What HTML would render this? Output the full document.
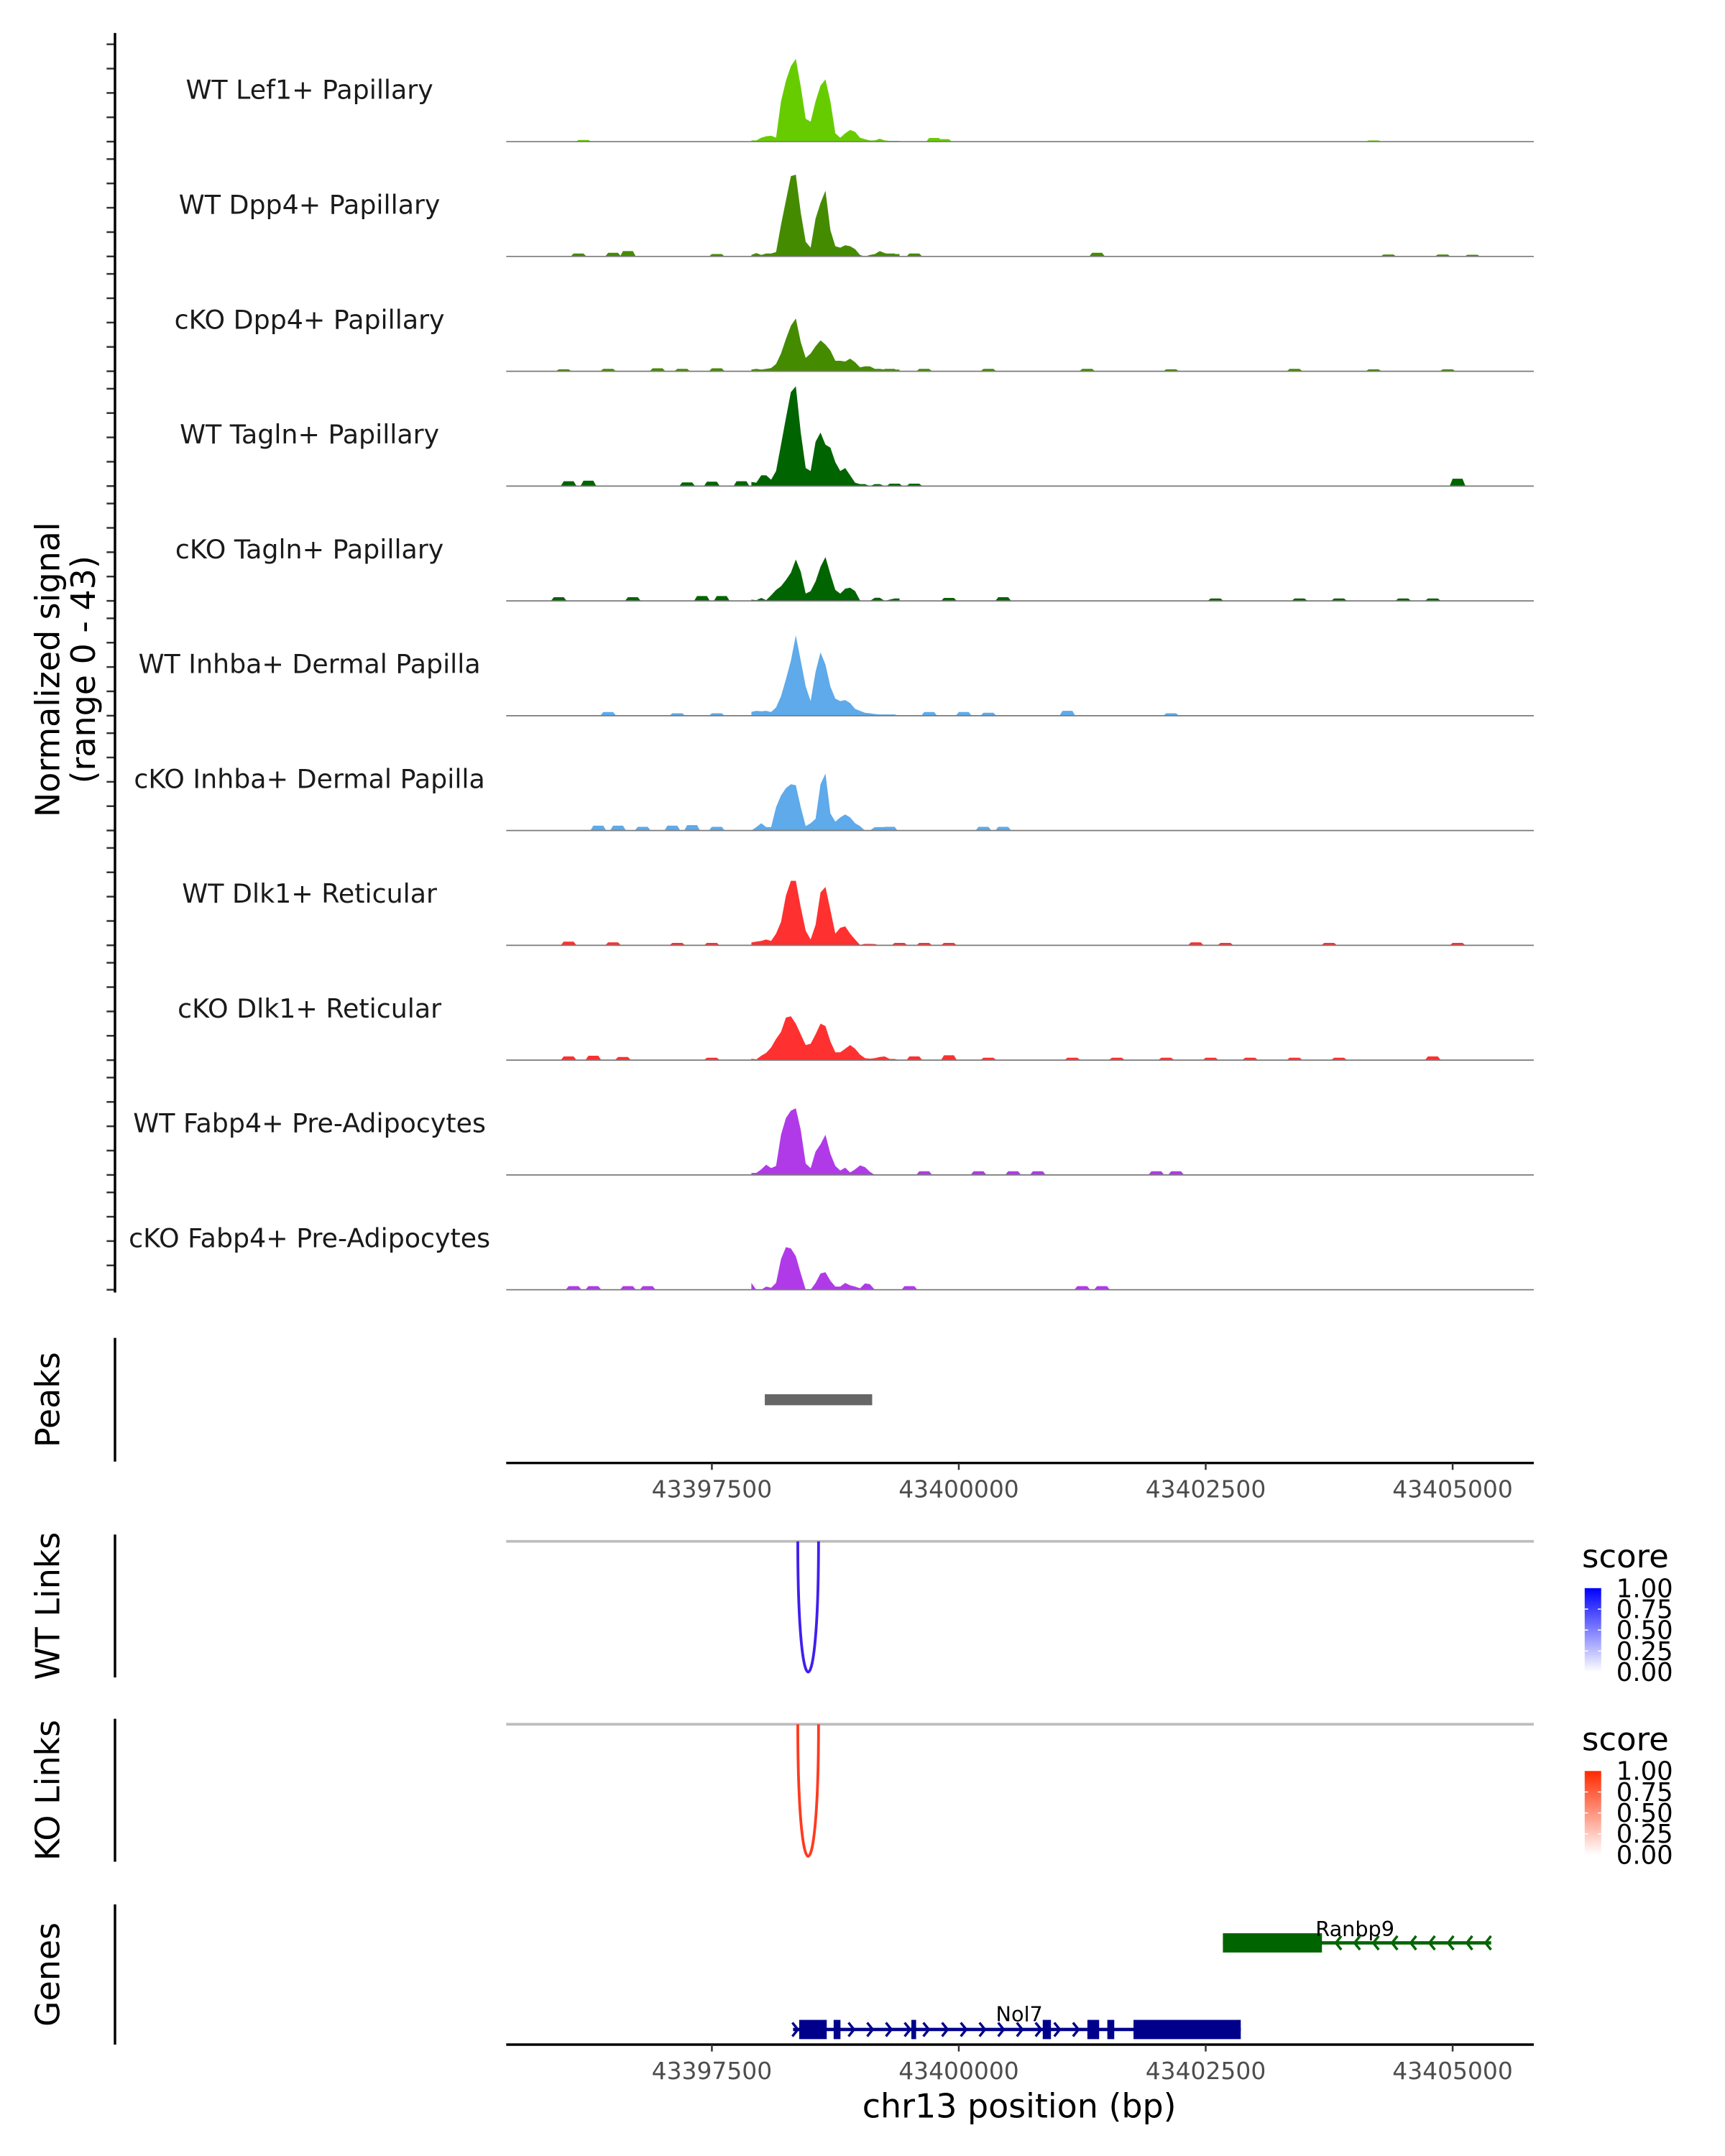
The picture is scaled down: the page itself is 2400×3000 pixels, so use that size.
<!DOCTYPE html>
<html><head><meta charset="utf-8">
<style>
html,body{margin:0;padding:0;background:#fff;}
svg{display:block;}
text{font-family:"DejaVu Sans","Liberation Sans",sans-serif;}
</style></head>
<body>
<svg id="chart" xmlns="http://www.w3.org/2000/svg" width="2400" height="3000" viewBox="0 0 1254 1568" preserveAspectRatio="none">
<rect x="0" y="0" width="1254" height="1568" fill="#fff"/>
<g id="tracks"></g>
<g id="axes"></g>
<g id="genes"></g>
</svg>
<script>
// ---- data ----
const trackNames = ["WT Lef1+ Papillary","WT Dpp4+ Papillary","cKO Dpp4+ Papillary","WT Tagln+ Papillary","cKO Tagln+ Papillary","WT Inhba+ Dermal Papilla","cKO Inhba+ Dermal Papilla","WT Dlk1+ Reticular","cKO Dlk1+ Reticular","WT Fabp4+ Pre-Adipocytes","cKO Fabp4+ Pre-Adipocytes"];
const trackColors = ["#66cc00","#458b00","#458b00","#006400","#006400","#5eaaea","#5eaaea","#ff3030","#ff3030","#b03ae8","#b03ae8"];
const gridBp = [43397900,43397950,43398000,43398050,43398100,43398150,43398200,43398250,43398300,43398350,43398400,43398450,43398500,43398550,43398600,43398650,43398700,43398750,43398800,43398850,43398900,43398950,43399000,43399050,43399100,43399150,43399200,43399250,43399300,43399350,43399400];
const sig1 = [0.5,0.5,1.6,2.2,2.4,1.6,16.6,25,31,34,22.6,9.4,8.2,16.6,23,25.6,16.6,3.4,1.6,3.4,4.8,4,1.6,1,0.5,0.5,1.2,0.5,0.3,0.3,0.3];
const sig2 = [0.6,1.4,0.6,1.2,1.2,1.8,13,23,33,33.6,18,6,3.6,15.6,22,27,10.8,4.2,3.6,4.6,4.2,3,0.6,0,0.6,1,2.2,1.4,0.6,1,1];
const sig3 = [0.7,1,0.7,1,1.3,3,7.3,13.3,18.7,21.7,12,5.5,7.3,10.3,12.7,11,8.5,4.3,4.3,4,5.2,3.7,1.6,2,2,1,1,0.7,0,0.7,0.7];
const sig4 = [1.7,1.4,4.4,4.4,2.6,6.2,17,28,38.6,41,22,7.4,6.2,18.2,22,17,15.8,9.8,6.2,7.4,4.4,1.4,0.8,0.8,0,0.8,0.8,0,0,0,0];
const sig5 = [0.5,0.3,1.2,0.3,2.3,4.5,6,8.6,11.6,17,12,3,4,8,14,18,11,4.5,3,5,5.4,4,0.2,0,0,1.3,1.3,0,0.5,1,1];
const sig6 = [1.6,2,1.8,2,1.5,3.4,8,15,22.6,33,22.6,12,6,18,26,21,12,7,6,6.4,5.2,2.8,2,1.2,1,0.7,0.5,0.5,0.5,0.5,0];
const sig7 = [0,1.4,3,1.4,1.4,9.6,14.4,17.4,19,18.6,9.6,1.8,3,4.8,19,23.4,7,3.6,5.4,6.6,5.4,3,1.8,0,0,1.4,1.4,1.4,0,0,0];
const sig8 = [1.2,1.5,1.8,2.4,1.8,4.8,9.6,20.5,26.5,26.5,15.6,6,2.4,8.4,21.7,24,14.5,4.8,7.2,7.8,4.8,2.4,0.2,0.6,0.6,0.5,0,0,0,0,0];
const sig9 = [0.6,0.3,1.8,3,5.2,8.7,11.6,17.5,18,15,10.6,6.2,6.7,10.6,15,14,7.7,3.2,3.2,4.7,6.2,4.7,2.3,0.8,0.6,0.8,1.3,1.5,0.5,0.5,0];
const sig10 = [0.8,0.8,2.3,4.2,2.8,3.7,16.5,23.4,26.4,27.4,18.5,4.7,2.8,9.6,12.6,16.5,8.7,3.7,1.8,3,1,2.3,3.9,3.2,1.3,0,0,0,0,0,0];
const sig11 = [2.8,0,0,1.3,0.8,2.8,12.6,17.5,17,13.8,6.7,0,0,2.8,6.7,7.2,3.7,1.3,1.3,2.8,1.8,1.3,0.6,2.6,2.3,0,0,0,0,0,0];
// sparse background bumps: [bp, value]
const bumps1 = [[43396200,0.7],[43399750,1.5],[43399850,1],[43404200,0.5]];
const bumps2 = [[43396150,1.2],[43396500,1.5],[43396650,2.2],[43397550,1],[43399300,1.2],[43399550,1.2],[43401400,1.5],[43404350,0.8],[43404900,0.8],[43405200,0.7]];
const bumps3 = [[43396000,0.8],[43396450,1],[43396950,1.2],[43397200,1],[43397550,1.2],[43399300,1],[43399650,1],[43400300,1],[43401300,1],[43402150,0.8],[43403400,1],[43404200,0.8],[43404950,0.8]];
const bumps4 = [[43396050,2],[43396250,2.2],[43397250,1.5],[43397500,1.8],[43397800,2],[43399350,1],[43399550,1],[43405050,3]];
const bumps5 = [[43395950,1.5],[43396700,1.5],[43397400,2],[43397600,2],[43399900,1.2],[43400450,1.5],[43402600,1],[43403450,1],[43403850,1],[43404500,1],[43404800,1]];
const bumps6 = [[43396450,1.5],[43397150,1],[43397550,1],[43399700,1.5],[43400050,1.5],[43400300,1.2],[43401100,2],[43402150,1]];
const bumps7 = [[43396350,2],[43396550,2],[43396800,1.5],[43397100,2],[43397300,2.2],[43397550,1.5],[43399300,1.5],[43400250,1.5],[43400450,1.5]];
const bumps8 = [[43396050,1.5],[43396500,1.2],[43397150,1],[43397500,1],[43399400,1],[43399650,1],[43399900,1],[43402400,1.2],[43402700,1],[43403750,1],[43405050,1]];
const bumps9 = [[43396050,1.5],[43396300,1.8],[43396600,1.3],[43397500,1],[43399550,1.5],[43399900,2],[43400300,1],[43401150,1],[43401600,1],[43402100,1],[43402550,1],[43402950,1],[43403400,1],[43403850,1],[43404800,1.5]];
const bumps10 = [[43399650,1.5],[43400200,1.5],[43400550,1.5],[43400800,1.5],[43402000,1.5],[43402200,1.5]];
const bumps11 = [[43396100,1.5],[43396300,1.5],[43396650,1.5],[43396850,1.5],[43399500,1.5],[43401250,1.5],[43401450,1.5]];
const xTicks = [43397500,43400000,43402500,43405000];
const peaksData = [[43398036,43399123]];
const wtLinks = [[43398370,43398580,1.0]];
const koLinks = [[43398370,43398580,1.0]];
const legendTicks = ["1.00","0.75","0.50","0.25","0.00"];
const nol7Span = [43398322,43402855];
const nol7Exons = [[43398384,43398663],[43398733,43398802],[43399520,43399568],[43400850,43400933],[43401302,43401421],[43401504,43401574],[43401769,43402855]];
const ranbp9Span = [43402674,43405390];
const ranbp9Exons = [[43402674,43403677]];

const signals = [sig1,sig2,sig3,sig4,sig5,sig6,sig7,sig8,sig9,sig10,sig11];
const bumpSets = [bumps1,bumps2,bumps3,bumps4,bumps5,bumps6,bumps7,bumps8,bumps9,bumps10,bumps11];

// ---- scales ----
const NS = "http://www.w3.org/2000/svg";
const PX0 = 697, BP0 = 43400000, K = 0.0718;
const XL = 368, XR = 1115;
function xs(bp){ return PX0 + (bp - BP0) * K; }
const UNIT = 1.77;
const base0 = 103, trackStep = 83.5;
function baseOf(i){ return base0 + trackStep * i; }
function ys(v, base){ return base - v * UNIT; }
function mk(tag, attrs, parent){ const e = document.createElementNS(NS, tag); for (const k in attrs) e.setAttribute(k, attrs[k]); parent.appendChild(e); return e; }

const tracksG = document.getElementById('tracks');
const axesG = document.getElementById('axes');
const genesG = document.getElementById('genes');

// ---- coverage tracks ----
signals.forEach((sig, i) => {
  const base = baseOf(i);
  const g = mk('g', {}, tracksG);
  
  
  const lbl = mk('text', {x: 225, y: base - 31, 'text-anchor': 'middle', 'font-size': 19, fill: '#1a1a1a'}, g);
  lbl.textContent = trackNames[i];
  
  
  let d = 'M' + xs(gridBp[0]) + ',' + base;
  sig.forEach((v, j) => { d += ' L' + xs(gridBp[j]).toFixed(2) + ',' + ys(v, base).toFixed(2); });
  d += ' L' + xs(gridBp[gridBp.length-1]).toFixed(2) + ',' + base + ' Z';
  const area = mk('path', {d: d, fill: trackColors[i]}, g);
  
  
  bumpSets[i].forEach(b => {
    const x0 = xs(b[0]-80), x1 = xs(b[0]-50), x2 = xs(b[0]+50), x3 = xs(b[0]+80), yv = ys(b[1], base);
    const p = mk('path', {d: `M${x0},${base} L${x1},${yv} L${x2},${yv} L${x3},${base} Z`, fill: trackColors[i]}, g);
    
    
  });
  const bl = mk('line', {x1: XL, x2: XR, y1: base, y2: base, stroke: '#7a7a7a', 'stroke-width': 0.9}, g);
  
  
  for (let k = 0; k <= 4; k++) {
    const ty = base - k * 10 * UNIT;
    const t = mk('line', {x1: 77.5, x2: 83.6, y1: ty, y2: ty, stroke: '#333', 'stroke-width': 1.3}, axesG);
    
    
  }
});
(function(){
  const ax = mk('line', {x1: 83.6, x2: 83.6, y1: 24, y2: baseOf(10)+2, stroke: '#000', 'stroke-width': 1.8}, axesG);
  
  
  const t = mk('text', {transform: 'translate(43,487) rotate(-90)', 'text-anchor': 'middle', 'font-size': 24, fill: '#000'}, axesG);
  t.textContent = 'Normalized signal';
  
  
  const t2 = mk('text', {transform: 'translate(69,487) rotate(-90)', 'text-anchor': 'middle', 'font-size': 24, fill: '#000'}, axesG);
  t2.textContent = '(range 0 - 43)';
  
  
})();

// ---- side panels ----
function sidePanel(label, y1, y2, name){
  const l = mk('line', {x1: 83.6, x2: 83.6, y1: y1, y2: y2, stroke: '#000', 'stroke-width': 1.8}, axesG);
  
  
  const t = mk('text', {transform: `translate(43,${(y1+y2)/2}) rotate(-90)`, 'text-anchor': 'middle', 'font-size': 24, fill: '#000'}, axesG);
  t.textContent = label;
  
  
}
sidePanel('Peaks', 973, 1063, 'peaks');
sidePanel('WT Links', 1116, 1220, 'wt-links');
sidePanel('KO Links', 1250, 1354, 'ko-links');
sidePanel('Genes', 1385, 1487, 'genes');

peaksData.forEach(p => {
  const r = mk('rect', {x: xs(p[0]), y: 1014, width: xs(p[1]) - xs(p[0]), height: 8, fill: '#666'}, axesG);
  
  
});

function xAxis(y, name){
  const g = mk('g', {}, axesG);
  
  
  mk('line', {x1: XL, x2: XR, y1: y, y2: y, stroke: '#000', 'stroke-width': 1.8}, g);
  xTicks.forEach(t => {
    mk('line', {x1: xs(t), x2: xs(t), y1: y, y2: y + 5, stroke: '#333', 'stroke-width': 1.3}, g);
    const tx = mk('text', {x: xs(t), y: y + 25, 'text-anchor': 'middle', 'font-size': 17.2, fill: '#4d4d4d'}, g);
    tx.textContent = t;
    
    
  });
}
xAxis(1064, 'peaks-x-axis');
xAxis(1487, 'genes-x-axis');
(function(){
  const t = mk('text', {x: 741, y: 1540, 'text-anchor': 'middle', 'font-size': 24, fill: '#000'}, axesG);
  t.textContent = 'chr13 position (bp)';
  
  
})();

function linkPanel(links, top, depth, color, gradId, topColor, name){
  const gl = mk('line', {x1: XL, x2: XR, y1: top, y2: top, stroke: '#bdbdbd', 'stroke-width': 2}, axesG);
  
  
  links.forEach(l => {
    const x1 = xs(l[0]), x2 = xs(l[1]), cy = top + depth * l[2] / 0.75;
    const p = mk('path', {d: `M${x1},${top} C${x1},${cy} ${x2},${cy} ${x2},${top}`, fill: 'none', stroke: color, 'stroke-width': 2}, axesG);
    
    
  });
  const defs = mk('defs', {}, axesG);
  const lg = mk('linearGradient', {id: gradId, x1: 0, y1: 0, x2: 0, y2: 1}, defs);
  mk('stop', {offset: '0', 'stop-color': topColor}, lg);
  mk('stop', {offset: '1', 'stop-color': '#ffffff'}, lg);
  const leg = mk('g', {}, axesG);
  
  
  const st = mk('text', {x: 1150, y: top + 19, 'font-size': 23.5, fill: '#000'}, leg);
  st.textContent = 'score';
  const by = top + 34, bh = 61;
  mk('rect', {x: 1152, y: by, width: 12, height: bh, fill: `url(#${gradId})`}, leg);
  legendTicks.forEach((s, k) => {
    const ty = by + bh * k / 4;
    if (k > 0 && k < 4) {
      mk('line', {x1: 1152, x2: 1154.5, y1: ty, y2: ty, stroke: '#fff', 'stroke-width': 0.8}, leg);
      mk('line', {x1: 1161.5, x2: 1164, y1: ty, y2: ty, stroke: '#fff', 'stroke-width': 0.8}, leg);
    }
    const tx = mk('text', {x: 1175, y: ty + 6.5, 'font-size': 18.5, fill: '#000'}, leg);
    tx.textContent = s;
  });
}
linkPanel(wtLinks, 1121, 95, '#3f1ff0', 'gradWT', '#0000ff', 'wt-links');
linkPanel(koLinks, 1254, 96, '#ff3a1f', 'gradKO', '#ff2a00', 'ko-links');

function drawGene(span, exons, y, color, dir, label, lx, ly, name){
  const g = mk('g', {}, genesG);
  
  
  const x0 = xs(span[0]), x1 = xs(span[1]);
  mk('line', {x1: x0, x2: x1, y1: y, y2: y, stroke: color, 'stroke-width': 2.4}, g);
  for (let cx = x0 + 2; cx <= x1 - 1; cx += 13.6) {
    const inside = exons.some(e => cx > xs(e[0]) - 1 && cx < xs(e[1]) + 1);
    if (inside) continue;
    const d = dir > 0 ? `M${cx-2.5},${y-5} L${cx+1.5},${y} L${cx-2.5},${y+5}` : `M${cx+2.5},${y-5} L${cx-1.5},${y} L${cx+2.5},${y+5}`;
    mk('path', {d: d, fill: 'none', stroke: color, 'stroke-width': 1.8}, g);
  }
  exons.forEach(e => {
    const r = mk('rect', {x: xs(e[0]), y: y - 7, width: xs(e[1]) - xs(e[0]), height: 14, fill: color}, g);
    
    
  });
  const t = mk('text', {x: lx, y: ly, 'text-anchor': 'middle', 'font-size': 15, fill: '#000'}, g);
  t.textContent = label;
}
drawGene(ranbp9Span, ranbp9Exons, 1413, '#006400', -1, 'Ranbp9', 985, 1408, 'gene-ranbp9');
drawGene(nol7Span, nol7Exons, 1476, '#00008b', 1, 'Nol7', 741, 1470, 'gene-nol7');
</script>
</body></html>
